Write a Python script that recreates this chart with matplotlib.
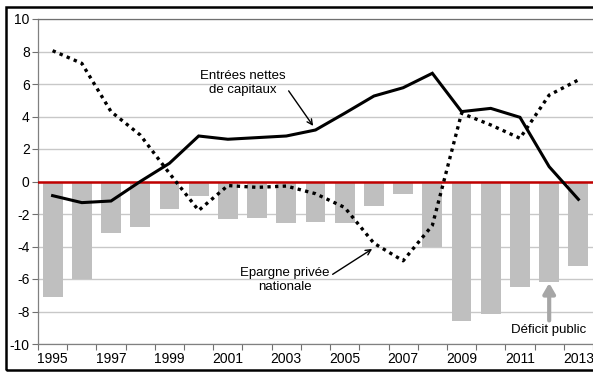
import matplotlib
matplotlib.use("Agg")
import matplotlib.pyplot as plt
from matplotlib.patches import Rectangle

years = list(range(1995, 2014))
deficit_public = [-7.1, -6.0, -3.15, -2.8, -1.67, -0.87, -2.3, -2.23, -2.53, -2.5,
                  -2.55, -1.5, -0.79, -4.05, -8.56, -8.15, -6.49, -6.18, -5.2]
entrees_capitaux = [-0.87, -1.3, -1.2, 0.0, 1.12, 2.8, 2.6, 2.7, 2.8, 3.17,
                    4.2, 5.26, 5.77, 6.66, 4.3, 4.5, 3.95, 0.91, -1.1]
epargne_privee = [8.05, 7.27, 4.3, 2.86, 0.5, -1.78, -0.25, -0.36, -0.28, -0.75,
                  -1.6, -3.8, -4.88, -2.7, 4.2, 3.48, 2.66, 5.32, 6.25]
xtick_labels = [str(y) if (y - 1995) % 2 == 0 else "" for y in years]
yticks = list(range(-10, 11, 2))

plt.rcParams['font.family'] = ['Liberation Sans', 'DejaVu Sans']

fig = plt.figure(figsize=(5.93, 3.74), dpi=100)
ax = fig.add_axes([38/593, 1 - 344/374, (593 - 38)/593, (344 - 19)/374])

x = list(range(len(years)))
ax.bar(x, deficit_public, width=0.68, color='#BFBFBF', zorder=2)
ax.axhline(0, color='#C00000', lw=1.8, zorder=3)
ax.plot(x, entrees_capitaux, color='black', lw=2.2, zorder=4, solid_joinstyle='miter')
ax.plot(x, epargne_privee, color='black', lw=2.4, linestyle=(0, (1, 1.3)),
        dash_capstyle='butt', zorder=4)

ax.set_xlim(-0.5, len(years) - 0.5)
ax.set_ylim(-10, 10)
ax.set_yticks(yticks)
ax.set_yticklabels([str(v) for v in yticks], fontsize=10)
ax.yaxis.grid(True, color='#C8C8C8', lw=1.0, zorder=0)
ax.set_axisbelow(True)

ax.set_xticks([i - 0.5 for i in range(len(years) + 1)], minor=False)
ax.set_xticklabels([])
ax.set_xticks(x, minor=True)
ax.set_xticklabels(xtick_labels, minor=True, fontsize=10)
ax.tick_params(axis='x', which='major', direction='out', length=4, color='#707070', width=0.8)
ax.tick_params(axis='x', which='minor', length=0, pad=6)
ax.tick_params(axis='y', direction='out', length=4, color='#707070', width=0.8, pad=2)

ax.spines['right'].set_visible(False)
ax.spines['top'].set_color('#707070')
ax.spines['left'].set_color('#808080')
ax.spines['bottom'].set_color('#808080')
for s in ['top', 'left', 'bottom']:
    ax.spines[s].set_linewidth(0.9)

ax.annotate("Entrées nettes\nde capitaux", xy=(8.92, 3.42), xytext=(6.52, 6.06),
            ha='center', va='center', fontsize=9.5, linespacing=1.2,
            arrowprops=dict(arrowstyle='->', color='black', lw=1.0,
                            shrinkA=0, shrinkB=0, relpos=(1.0, 0.35)), zorder=5)
ax.annotate("Epargne privée\nnationale", xy=(10.94, -4.15), xytext=(7.96, -6.06),
            ha='center', va='center', fontsize=9.5, linespacing=1.2,
            arrowprops=dict(arrowstyle='->', color='black', lw=1.0,
                            shrinkA=0, shrinkB=0, relpos=(1.0, 0.65)), zorder=5)
ax.annotate("", xy=(17.0, -6.25), xytext=(17.0, -8.55),
            arrowprops=dict(arrowstyle='-|>,head_length=0.6,head_width=0.35',
                            color='#A6A6A6', lw=3, shrinkA=0, shrinkB=0), zorder=5)
ax.text(16.97, -9.14, "Déficit public", ha='center', va='center', fontsize=9.5)

fig.patches.append(Rectangle((6/593, 1 - 370/374), 1.0, (370 - 6.5)/374,
                             transform=fig.transFigure, fill=False,
                             edgecolor='black', lw=1.8, zorder=10))

fig.savefig("out.png", dpi=100)
